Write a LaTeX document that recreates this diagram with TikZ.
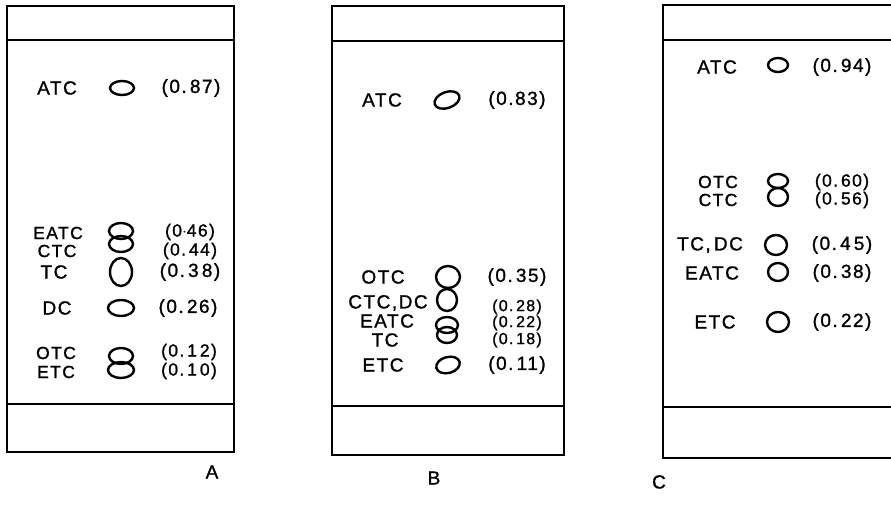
\documentclass[tikz,border=0pt]{standalone}
\usepackage{fontspec}
\setmainfont{Liberation Sans}[LetterSpace=8, FakeBold=1.2]
\begin{document}
\begin{tikzpicture}[x=1pt,y=-1pt,
  frame/.style={line width=1.6pt},
  spot/.style={line width=2.4pt},
  lbl/.style={font=\fontsize{19}{19}\selectfont, inner sep=0pt},
  small/.style={font=\fontsize{17.5}{17.5}\selectfont, inner sep=0pt},
  tight/.style={font=\fontsize{16}{16}\selectfont, inner sep=0pt}]
\useasboundingbox (0,0) rectangle (891,522);
% Panel A
\draw[frame] (7,6) rectangle (234,452);
\draw[frame] (7,40) -- (234,40);
\draw[frame] (7,404) -- (234,404);
% Panel B
\draw[frame] (332,6) rectangle (564,455);
\draw[frame] (332,41) -- (564,41);
\draw[frame] (332,406) -- (564,406);
% Panel C
\draw[frame] (891,5) -- (663,5) -- (663,458) -- (891,458);
\draw[frame] (663,40) -- (891,40);
\draw[frame] (663,407) -- (891,407);

% ---- Panel A ----
\node[lbl] (aATC) at (57,88) {ATC};
\draw[spot] (122,88) ellipse (12 and 7);
\node[lbl] (aATCv) at (191,88) {(0.\,87)};
\node[small] (aEATC) at (58,233) {EATC};
\node[small] (aCTC) at (57,251) {CTC};
\node[lbl] (aTC) at (54,272) {TC};
\node[lbl] (aDC) at (57,308) {DC};
\node[small] (aOTC) at (56,353) {OTC};
\node[small] (aETC) at (56,372) {ETC};
\draw[spot] (121,231) ellipse (12 and 8);
\draw[spot] (121,244) ellipse (12 and 8);
\draw[spot] (121,272) ellipse (11 and 14);
\draw[spot] (121,308) ellipse (13 and 8);
\draw[spot] (121,356) ellipse (12 and 8);
\draw[spot] (121,370) ellipse (13 and 8);
\node[small] (aEATCv) at (190,232) {(0$\cdot$46)};
\node[small] (aCTCv) at (190,251) {(0.\,44)};
\node[lbl] (aTCv) at (190,272) {(0.\,3\,8)};
\node[lbl] (aDCv) at (188,308) {(0.\,26)};
\node[small] (aOTCv) at (189,352) {(0.\,1\,2)};
\node[small] (aETCv) at (189,371) {(0.\,1\,0)};

% ---- Panel B ----
\node[lbl] (bATC) at (382,100) {ATC};
\draw[spot, rotate around={20:(447,100)}] (447,100) ellipse (13 and 8);
\node[lbl] (bATCv) at (517,100) {(0.83)};
\node[lbl] (bOTC) at (383,277) {OTC};
\draw[spot] (448,277) ellipse (12 and 11);
\node[lbl] (bOTCv) at (517,277) {(0.\,35)};
\node[lbl] (bCTC) at (388,303) {CTC,DC};
\draw[spot] (447,300) ellipse (10 and 11);
\node[tight] (bCTCv) at (517,307) {(0.\,28)};
\node[lbl] (bEATC) at (387,321) {EATC};
\draw[spot] (447,325) ellipse (11 and 8);
\draw[spot] (447,335) ellipse (10 and 8);
\node[tight] (bEATCv) at (517,323) {(0.\,22)};
\node[lbl] (bTC) at (385,340) {TC};
\node[tight] (bTCv) at (517,340) {(0.\,18)};
\node[lbl] (bETC) at (383,365) {ETC};
\draw[spot, rotate around={15:(448,365)}] (448,365) ellipse (12 and 8);
\node[lbl] (bETCv) at (517,365) {(0.\,11)};

% ---- Panel C ----
\node[lbl] (cATC) at (717,67) {ATC};
\draw[spot] (778,65) ellipse (10 and 7);
\node[lbl] (cATCv) at (842,67) {(0.\,94)};
\node[small] (cOTC) at (718,182) {OTC};
\node[small] (cCTC) at (718,200) {CTC};
\draw[spot] (778,181) ellipse (10 and 7);
\draw[spot] (778,197) ellipse (10 and 9);
\node[small] (cOTCv) at (842,182) {(0.\,60)};
\node[small] (cCTCv) at (842,200) {(0.\,56)};
\node[lbl] (cTC) at (710,245) {TC,\,DC};
\draw[spot] (776,245) ellipse (11 and 10);
\node[lbl] (cTCv) at (842,245) {(0.\,4\,5)};
\node[lbl] (cEATC) at (712,273) {EATC};
\draw[spot] (778,272) ellipse (10 and 9);
\node[lbl] (cEATCv) at (842,273) {(0.\,38)};
\node[lbl] (cETC) at (715,322) {ETC};
\draw[spot] (778,322) ellipse (11 and 10);
\node[lbl] (cETCv) at (842,322) {(0.\,22)};

% panel letters
\node[lbl] (LA) at (212,472) {A};
\node[lbl] (LB) at (434,478) {B};
\node[lbl] (LC) at (659,482) {C};
\end{tikzpicture}
\end{document}
